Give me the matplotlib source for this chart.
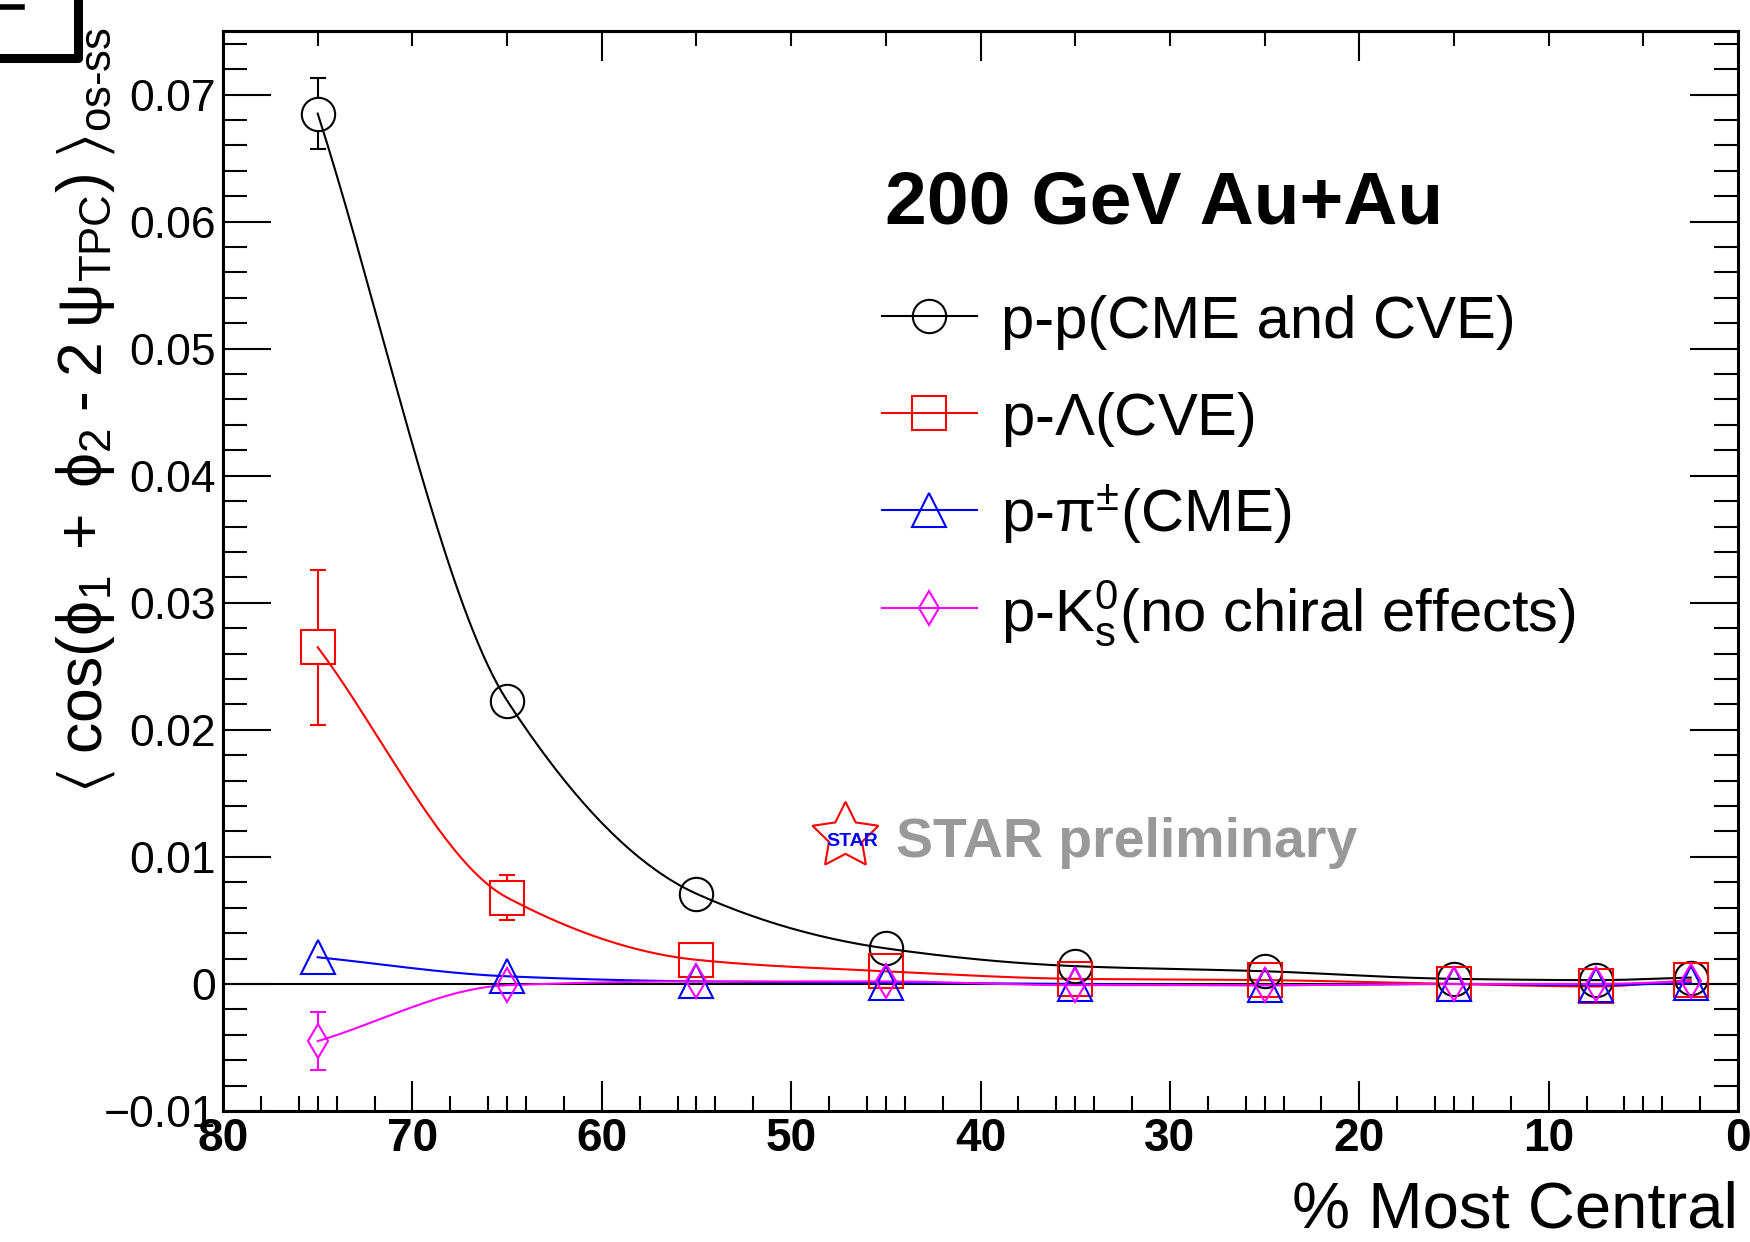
import numpy as np
import matplotlib
matplotlib.use('Agg')
from matplotlib import pyplot as plt
from matplotlib.lines import Line2D
from matplotlib.ticker import FixedLocator, FuncFormatter

plt.rcParams['font.family'] = ['Liberation Sans', 'DejaVu Sans']
plt.rcParams['mathtext.fontset'] = 'custom'
plt.rcParams['mathtext.rm'] = 'Liberation Sans'
plt.rcParams['mathtext.it'] = 'Liberation Sans:italic'
plt.rcParams['mathtext.bf'] = 'Liberation Sans:bold'
plt.rcParams['mathtext.fallback'] = 'stixsans'

# centrality bins (% most central)
cent = [75, 65, 55, 45, 35, 25, 15, 7.5, 2.5]

# p-p (CME and CVE)
pp = [0.0685, 0.0223, 0.0071, 0.0028, 0.0014, 0.0010, 0.0004, 0.0003, 0.0005]
pp_err = [0.0028, 0.0008, 0.0004, 0.0003, 0.0002, 0.0002, 0.0002, 0.0002, 0.0002]
# p-Lambda (CVE)
pL = [0.0265, 0.0068, 0.0019, 0.0010, 0.0004, 0.0003, 0.0000, -0.0002, 0.0003]
pL_err = [0.0061, 0.0018, 0.0006, 0.0004, 0.0003, 0.0003, 0.0002, 0.0002, 0.0003]
# p-pi (CME)
ppi = [0.0021, 0.0006, 0.0002, 0.0001, 0.0000, -0.0001, 0.0000, -0.0001, 0.0001]
ppi_err = [0.0004, 0.0002, 0.0001, 0.0001, 0.0001, 0.0001, 0.0001, 0.0001, 0.0001]
# p-K0s (no chiral effects)
pK = [-0.0045, -0.0001, 0.0002, 0.0002, -0.0001, -0.0001, 0.0000, 0.0000, 0.0002]
pK_err = [0.0023, 0.0006, 0.0003, 0.0002, 0.0002, 0.0002, 0.0001, 0.0001, 0.0002]

labels = ['p-p(CME and CVE)', r'p-$\mathrm{\Lambda}$(CVE)', r'p-$\mathrm{\pi}^{\pm}$(CME)',
          r'p-K$_{\rm s}^{0}$(no chiral effects)']


def smooth(x, y, n=300):
    # monotone cubic (pchip) through the points, just for drawing the curve
    x = np.asarray(x, float)
    y = np.asarray(y, float)
    o = np.argsort(x)
    x, y = x[o], y[o]
    h = np.diff(x)
    d = np.diff(y) / h
    m = np.zeros_like(y)
    for k in range(1, len(x) - 1):
        if d[k - 1] * d[k] > 0:
            w1 = 2 * h[k] + h[k - 1]
            w2 = h[k] + 2 * h[k - 1]
            m[k] = (w1 + w2) / (w1 / d[k - 1] + w2 / d[k])
    m[0] = d[0]
    m[-1] = d[-1]
    xs = np.linspace(x[0], x[-1], n)
    i = np.clip(np.searchsorted(x, xs) - 1, 0, len(h) - 1)
    t = (xs - x[i]) / h[i]
    h00 = 2 * t**3 - 3 * t**2 + 1
    h10 = t**3 - 2 * t**2 + t
    h01 = -2 * t**3 + 3 * t**2
    h11 = t**3 - t**2
    ys = h00 * y[i] + h10 * h[i] * m[i] + h01 * y[i + 1] + h11 * h[i] * m[i + 1]
    return xs, ys


fig = plt.figure(figsize=(17.5, 12.42), dpi=100)
ax = fig.add_axes([223 / 1750, 131 / 1242, 1515 / 1750, 1080 / 1242])
ax.set_xlim(80, 0)
ax.set_ylim(-0.01, 0.075)

ax.axhline(0, color='black', lw=1.5, zorder=1)

series = [(pp, pp_err, 'black', 'o', 24),
          (pL, pL_err, 'red', 's', 24),
          (ppi, ppi_err, 'blue', '^', 24),
          (pK, pK_err, 'magenta', 'd', 17)]

py_per_unit = ax.transData.transform((0, 1))[1] - ax.transData.transform((0, 0))[1]
handles = []
for vals, errs, col, mk, ms in series:
    xs, ys = smooth(cent, vals)
    ax.plot(xs, ys, color=col, lw=1.5, zorder=3)
    ax.plot(cent, vals, ls='none', marker=mk, ms=ms, mfc='none', mec=col,
            mew=1.5, zorder=4)
    # error bars stop at the marker edge
    half = ms * 1.0 / 72 * fig.dpi / 2
    if mk == 'd':
        half = ms * 1.414 / 72 * fig.dpi / 2
    gap = half / py_per_unit
    for x, y, e in zip(cent, vals, errs):
        if e > gap:
            ax.vlines(x, y + gap, y + e, color=col, lw=1.5, zorder=4)
            ax.vlines(x, y - e, y - gap, color=col, lw=1.5, zorder=4)
            ax.plot([x, x], [y + e, y - e], ls='none', marker='_', ms=11,
                    mew=1.5, color=col, zorder=4)
    handles.append((col, mk, ms))

# axes style
for s in ax.spines.values():
    s.set_linewidth(2.2)
ax.xaxis.set_major_locator(FixedLocator(range(0, 81, 10)))
ax.xaxis.set_minor_locator(FixedLocator([v for v in range(0, 81)
                                         if (v % 2 == 0 or v % 5 == 0) and v % 10 != 0]))
ax.yaxis.set_major_locator(FixedLocator(np.arange(-0.01, 0.0751, 0.01)))
ax.yaxis.set_minor_locator(FixedLocator(np.arange(-0.01, 0.0751, 0.002)))
ax.tick_params(axis='x', which='major', direction='in', length=21.6, width=1.5,
               bottom=True, top=False, pad=4)
ax.tick_params(axis='x', which='minor', direction='in', length=10.8, width=1.5,
               bottom=True, top=False)
ax.tick_params(axis='y', which='major', direction='in', length=34.5, width=1.5,
               left=True, right=True, labelsize=32, pad=5)
ax.tick_params(axis='y', which='minor', direction='in', length=17, width=1.5,
               left=True, right=True)


def yfmt(v, pos):
    if abs(v) < 1e-9:
        return '0'
    return ('%.2f' % v).replace('-', '\u2212')


ax.yaxis.set_major_formatter(FuncFormatter(yfmt))
for lab in ax.get_xticklabels():
    lab.set_fontweight('bold')
    lab.set_fontsize(33)

top = ax.secondary_xaxis('top')
top.set_xticks(range(0, 81, 20))
top.xaxis.set_minor_locator(FixedLocator(range(0, 81, 5)))
top.tick_params(axis='x', which='major', direction='in', length=21.6, width=1.5,
                labeltop=False)
top.tick_params(axis='x', which='minor', direction='in', length=10.8, width=1.5)
top.spines['top'].set_linewidth(2.2)

ax.set_xlabel('% Most Central', fontsize=47, loc='right', labelpad=14)
fig.text(86 / 1750, 1 - 410 / 1242,
         r'$\langle\;\mathrm{cos(\phi_1\;+\;\phi_2\;\text{-}\;2\;\psi_{TPC})}\;\rangle_{\mathrm{os\text{-}ss}}$',
         rotation=90, ha='center', va='center', fontsize=45)


def axf(px, py):
    return (px - 223) / 1515, (1111 - py) / 1080


# legend
ax.text(*axf(885, 223), '200 GeV Au+Au', transform=ax.transAxes, fontsize=54,
        fontweight='bold', ha='left', va='baseline')
for k, ((col, mk, ms), lab) in enumerate(zip(handles, labels)):
    yc = [316, 413, 510, 608][k]
    x0, y0 = axf(882, yc)
    x1, _ = axf(977, yc)
    xm, _ = axf(929, yc)
    ax.plot([x0, x1], [y0, y0], color=col, lw=1.5, transform=ax.transAxes, clip_on=False)
    ax.plot([xm], [y0], marker=mk, ms=ms, mfc='none', mec=col, mew=1.5,
            transform=ax.transAxes, clip_on=False)
    ax.text(*axf(1001, yc + 22), lab, transform=ax.transAxes, fontsize=43,
            ha='left', va='baseline')

# STAR preliminary
ax.plot(*axf(845, 836), marker=(5, 1, 0), ms=50, mfc='white', mec='red', mew=1.5,
        transform=ax.transAxes, clip_on=False)
ax.text(*axf(852, 842), 'STAR', transform=ax.transAxes, fontsize=14,
        fontweight='bold', color='blue', ha='center', va='center')
ax.text(*axf(896, 857), 'STAR preliminary', transform=ax.transAxes, fontsize=40,
        fontweight='bold', color='#999999', ha='left', va='baseline')

# cropped bracket from the neighbouring panel
fig.add_artist(Line2D([0, 78 / 1750, 78 / 1750], [1 - 58 / 1242, 1 - 58 / 1242, 1],
                      color='black', lw=6.5, transform=fig.transFigure))
fig.add_artist(Line2D([0, 22 / 1750], [1 - 7 / 1242, 1 - 7 / 1242],
                      color='black', lw=4, transform=fig.transFigure))

fig.savefig('out.png', dpi=100)
